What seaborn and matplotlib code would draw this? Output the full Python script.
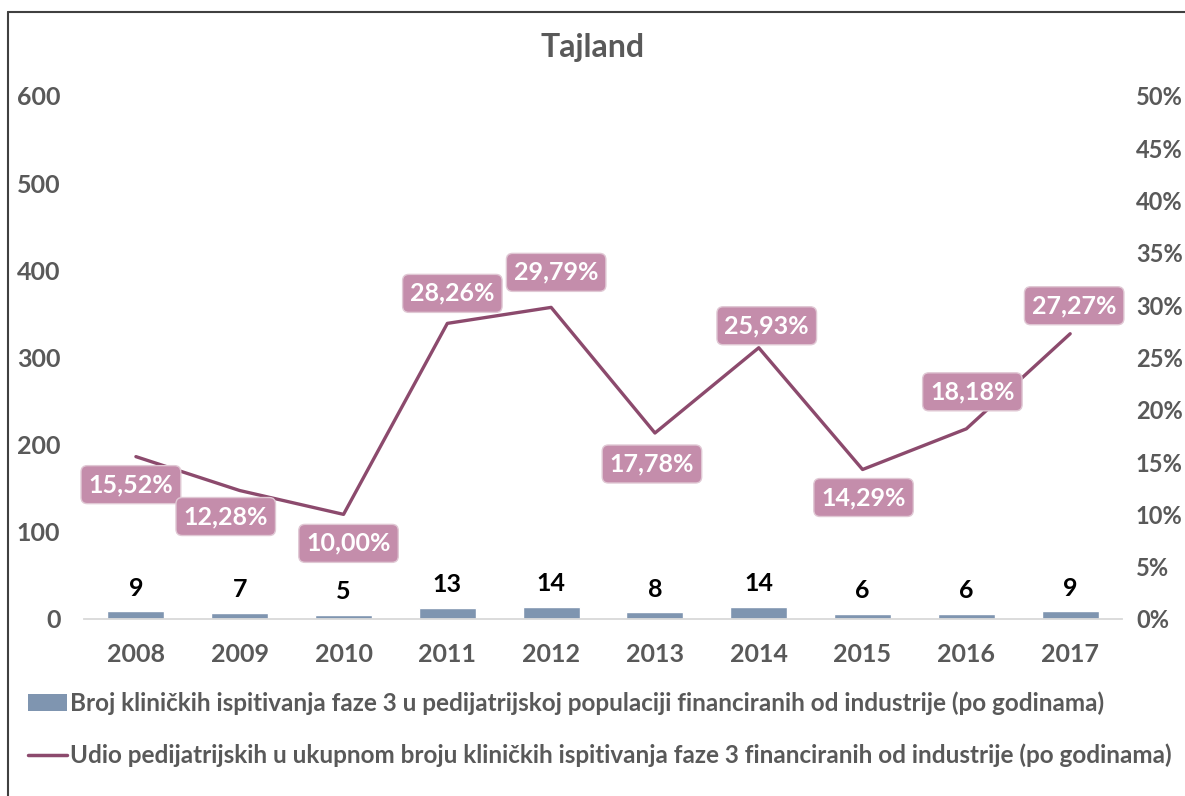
import numpy as np
import pandas as pd
import matplotlib
matplotlib.use('Agg')
import matplotlib.pyplot as plt
import seaborn as sns
from matplotlib.lines import Line2D
from matplotlib.patches import Patch

# podaci
godine = ['2008', '2009', '2010', '2011', '2012', '2013', '2014', '2015', '2016', '2017']
broj_ispitivanja = [9, 7, 5, 13, 14, 8, 14, 6, 6, 9]
udio = [15.52, 12.28, 10.00, 28.26, 29.79, 17.78, 25.93, 14.29, 18.18, 27.27]

naziv_bar = 'Broj kliničkih ispitivanja faze 3 u pedijatrijskoj populaciji financiranih od industrije (po godinama)'
naziv_linija = 'Udio pedijatrijskih u ukupnom broju kliničkih ispitivanja faze 3 financiranih od industrije (po godinama)'

df = pd.DataFrame({'godina': godine, 'broj': broj_ispitivanja, 'udio': np.array(udio) / 100})
df['poz'] = np.arange(len(df))

sns.set_style('white')
plt.rcParams['font.family'] = ['Lato', 'DejaVu Sans']
plt.rcParams['font.weight'] = 'bold'

siva = '#595959'
bar_boja = '#7F95B0'
linija_boja = '#8C4A6D'
oznaka_boja = '#C48DAB'
fs = 18

fig = plt.figure(figsize=(11.85, 7.96), dpi=100)
ax = fig.add_axes([0.0709, 0.2224, 0.876, 0.657])

sns.barplot(data=df, x='godina', y='broj', color=bar_boja, width=0.55,
            saturation=1, ax=ax)
ax.set_ylim(0, 600)
ax.set_yticks(range(0, 601, 100))
ax.set_xlim(-0.5, len(godine) - 0.5)
ax.set_xlabel('')
ax.set_ylabel('')
for s in ['top', 'right', 'left']:
    ax.spines[s].set_visible(False)
ax.spines['bottom'].set_color('#D9D9D9')
ax.spines['bottom'].set_linewidth(1.3)
ax.tick_params(axis='y', length=0, pad=17, labelsize=fs, labelcolor=siva)
ax.tick_params(axis='x', length=0, pad=17, labelsize=fs, labelcolor=siva)

# oznake na stupcima
for i, v in enumerate(broj_ispitivanja):
    ax.annotate(str(v), (i, v), xytext=(0, 16.5), textcoords='offset points',
                ha='center', va='center', fontsize=fs, fontweight='bold', color='black')

ax2 = ax.twinx()
sns.lineplot(data=df, x='poz', y='udio', color=linija_boja, linewidth=2.4, ax=ax2)
ax2.set_ylim(0, 0.5)
ax2.set_yticks(np.arange(0, 0.51, 0.05))
ax2.set_yticklabels([f'{int(round(t * 100))}%' for t in np.arange(0, 0.51, 0.05)])
ax2.set_xlim(-0.5, len(godine) - 0.5)
ax2.set_xlabel('')
ax2.set_ylabel('')
for s in ['top', 'right', 'left', 'bottom']:
    ax2.spines[s].set_visible(False)
ax2.tick_params(axis='y', length=0, pad=10, labelsize=17, labelcolor=siva)

# pomaci oznaka u pikselima (dx desno, dy prema dolje)
pomaci = [(-5, 28), (-14, 26), (5, 29), (5, -30), (5, -35), (-3, 31), (8, -22), (1, 28), (6, -37), (4, -28)]
for i, (v, (dx, dy)) in enumerate(zip(udio, pomaci)):
    ax2.annotate(f'{v:.2f}%'.replace('.', ','), (i, v / 100), xytext=(dx * 0.72, -dy * 0.72),
                 textcoords='offset points', ha='center', va='center',
                 fontsize=fs, fontweight='bold', color='white',
                 bbox=dict(boxstyle='round,pad=0.3,rounding_size=0.25', fc=oznaka_boja,
                           ec='#E0C8D4', lw=1))

fig.text(0.5, 0.94, 'Tajland', ha='center', va='center', fontsize=23,
         fontweight='bold', color=siva)

handles = [Patch(facecolor=bar_boja, edgecolor='none'),
           Line2D([0], [0], color=linija_boja, lw=2.5)]
fig.legend(handles, [naziv_bar, naziv_linija], loc='upper left',
           bbox_to_anchor=(0.024, 0.132), frameon=False, fontsize=17.5,
           labelcolor=siva, handlelength=1.6, handletextpad=0.1,
           labelspacing=1.2, borderaxespad=0, borderpad=0)

# okvir slike
fig.add_artist(Line2D([8 / 1185, 8 / 1185], [0, 1 - 12 / 796], color='#404040',
                      lw=1.5, transform=fig.transFigure))
fig.add_artist(Line2D([8 / 1185, 1], [1 - 12 / 796, 1 - 12 / 796], color='#404040',
                      lw=1.5, transform=fig.transFigure))

fig.savefig('out.png', dpi=100, facecolor='white')
